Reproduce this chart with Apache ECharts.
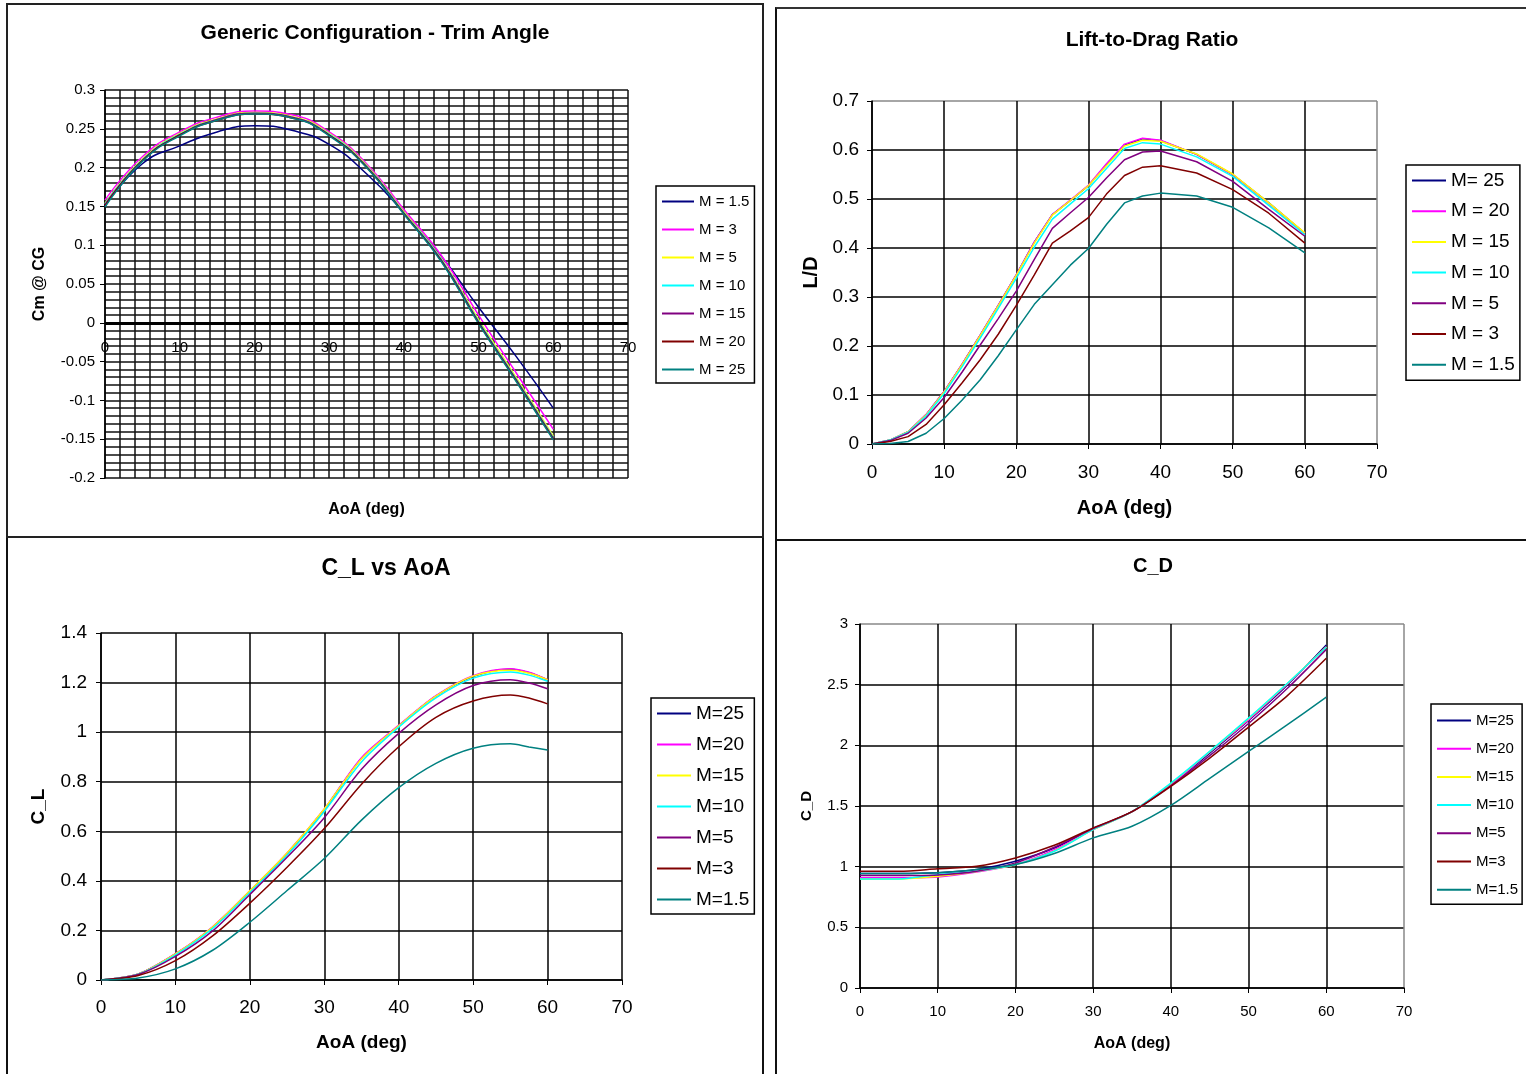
<!DOCTYPE html>
<html>
<head>
<meta charset="utf-8">
<title>Generic Configuration</title>
<style>
  body { margin: 0; background: #fff; width: 1526px; height: 1074px; overflow: hidden; position: relative; }
  .panel { position: absolute; box-sizing: border-box; background: #fff; }
  #p1 { left: 6px; top: 3px; width: 758px; height: 535px; border: 2px solid #222; }
  #p2 { left: 775px; top: 7px; width: 760px; height: 532px; border-left: 2px solid #111; border-top: 2px solid #333; }
  #p3 { left: 6px; top: 538px; width: 758px; height: 540px; border-left: 2px solid #111; border-right: 2px solid #111; }
  #p4 { left: 775px; top: 539px; width: 760px; height: 540px; border-left: 2px solid #111; border-top: 2px solid #111; }
</style>
</head>
<body>
<div id="p1" class="panel"></div>
<div id="p2" class="panel"></div>
<div id="p3" class="panel"></div>
<div id="p4" class="panel"></div>
<script src="https://cdn.jsdelivr.net/npm/echarts@6/dist/echarts.min.js"></script>
<script>
  // ---- Trim angle (Cm @ CG) ----
  let aoaCm = [0, 5, 10, 15, 20, 25, 30, 35, 40, 45, 50, 55, 60];
  let cmM1_5 = [0.150, 0.205, 0.228, 0.246, 0.254, 0.248, 0.230, 0.192, 0.142, 0.086, 0.020, -0.043, -0.110];
  let cmM3 = [0.158, 0.214, 0.246, 0.265, 0.273, 0.268, 0.246, 0.205, 0.146, 0.087, 0.010, -0.064, -0.137];
  let cmM5 = [0.154, 0.211, 0.244, 0.263, 0.271, 0.266, 0.244, 0.203, 0.143, 0.083, 0.004, -0.070, -0.146];
  let cmM10 = [0.153, 0.210, 0.243, 0.262, 0.270, 0.265, 0.243, 0.202, 0.142, 0.082, 0.002, -0.072, -0.148];
  let cmM15 = [0.152, 0.209, 0.242, 0.262, 0.270, 0.265, 0.242, 0.201, 0.141, 0.081, 0.001, -0.073, -0.149];
  let cmM20 = [0.151, 0.209, 0.242, 0.261, 0.269, 0.264, 0.242, 0.201, 0.141, 0.080, 0.000, -0.074, -0.150];
  let cmM25 = [0.149, 0.208, 0.241, 0.261, 0.269, 0.264, 0.241, 0.200, 0.140, 0.079, -0.001, -0.075, -0.151];
  let cmNames = ["M = 1.5", "M = 3", "M = 5", "M = 10", "M = 15", "M = 20", "M = 25"];

  // ---- Lift-to-drag ratio ----
  let aoaLD = [0, 2.5, 5, 7.5, 10, 12.5, 15, 17.5, 20, 22.5, 25, 27.5, 30, 32.5, 35, 37.5, 40, 45, 50, 55, 60];
  let ldM25 = [0, 0.008, 0.025, 0.060, 0.107, 0.163, 0.222, 0.283, 0.345, 0.412, 0.468, 0.497, 0.527, 0.570, 0.610, 0.623, 0.619, 0.591, 0.550, 0.492, 0.430];
  let ldM20 = [0, 0.008, 0.025, 0.060, 0.107, 0.163, 0.222, 0.283, 0.345, 0.412, 0.468, 0.498, 0.528, 0.572, 0.612, 0.624, 0.620, 0.591, 0.550, 0.491, 0.430];
  let ldM15 = [0, 0.008, 0.025, 0.059, 0.106, 0.162, 0.221, 0.282, 0.344, 0.410, 0.467, 0.497, 0.527, 0.568, 0.608, 0.620, 0.618, 0.592, 0.551, 0.492, 0.431];
  let ldM10 = [0, 0.008, 0.024, 0.057, 0.103, 0.158, 0.216, 0.277, 0.338, 0.402, 0.459, 0.490, 0.521, 0.562, 0.603, 0.615, 0.612, 0.586, 0.546, 0.487, 0.427];
  let ldM5 = [0, 0.007, 0.022, 0.053, 0.095, 0.147, 0.202, 0.256, 0.312, 0.377, 0.440, 0.472, 0.503, 0.543, 0.580, 0.596, 0.598, 0.576, 0.536, 0.479, 0.424];
  let ldM3 = [0, 0.005, 0.015, 0.040, 0.080, 0.125, 0.172, 0.224, 0.283, 0.345, 0.410, 0.435, 0.462, 0.510, 0.548, 0.565, 0.568, 0.553, 0.519, 0.471, 0.410];
  let ldM1_5 = [0, 0.001, 0.005, 0.022, 0.052, 0.090, 0.131, 0.180, 0.233, 0.285, 0.325, 0.365, 0.399, 0.448, 0.492, 0.506, 0.512, 0.506, 0.483, 0.441, 0.390];
  let ldNames = ["M= 25", "M = 20", "M = 15", "M = 10", "M = 5", "M = 3", "M = 1.5"];

  // ---- C_L ----
  let aoaCL = [0, 5, 10, 15, 20, 25, 30, 35, 40, 45, 50, 55, 57.5, 60];
  let clM25 = [0, 0.024, 0.105, 0.213, 0.359, 0.510, 0.688, 0.894, 1.025, 1.145, 1.225, 1.254, 1.240, 1.211];
  let clM20 = [0, 0.024, 0.106, 0.215, 0.360, 0.512, 0.690, 0.897, 1.027, 1.147, 1.228, 1.256, 1.242, 1.212];
  let clM15 = [0, 0.024, 0.105, 0.214, 0.360, 0.512, 0.690, 0.892, 1.025, 1.145, 1.226, 1.250, 1.238, 1.212];
  let clM10 = [0, 0.023, 0.101, 0.208, 0.353, 0.503, 0.680, 0.880, 1.020, 1.138, 1.218, 1.243, 1.230, 1.205];
  let clM5 = [0, 0.022, 0.095, 0.198, 0.345, 0.495, 0.655, 0.850, 0.995, 1.110, 1.188, 1.211, 1.198, 1.175];
  let clM3 = [0, 0.018, 0.078, 0.178, 0.310, 0.455, 0.611, 0.790, 0.941, 1.060, 1.126, 1.150, 1.138, 1.114];
  let clM1_5 = [0, 0.008, 0.045, 0.120, 0.233, 0.361, 0.490, 0.645, 0.776, 0.874, 0.935, 0.953, 0.940, 0.928];
  let clNames = ["M=25", "M=20", "M=15", "M=10", "M=5", "M=3", "M=1.5"];

  // ---- C_D ----
  let aoaCD = [0, 5, 10, 15, 20, 25, 30, 35, 40, 45, 50, 55, 60];
  let cdM25 = [0.943, 0.943, 0.949, 0.976, 1.045, 1.154, 1.311, 1.453, 1.675, 1.936, 2.205, 2.498, 2.827];
  let cdM20 = [0.908, 0.908, 0.914, 0.955, 1.017, 1.140, 1.305, 1.453, 1.675, 1.945, 2.210, 2.505, 2.813];
  let cdM15 = [0.899, 0.899, 0.921, 0.960, 1.017, 1.130, 1.305, 1.453, 1.685, 1.948, 2.220, 2.510, 2.810];
  let cdM10 = [0.899, 0.899, 0.935, 0.962, 1.017, 1.127, 1.305, 1.453, 1.689, 1.950, 2.224, 2.512, 2.808];
  let cdM5 = [0.927, 0.927, 0.932, 0.962, 1.031, 1.160, 1.315, 1.453, 1.668, 1.915, 2.180, 2.470, 2.791];
  let cdM3 = [0.962, 0.962, 0.982, 1.003, 1.072, 1.176, 1.319, 1.453, 1.662, 1.895, 2.150, 2.410, 2.717];
  let cdM1_5 = [0.943, 0.943, 0.949, 0.976, 1.017, 1.108, 1.237, 1.333, 1.505, 1.727, 1.950, 2.170, 2.397];
  let cdNames = ["M=25", "M=20", "M=15", "M=10", "M=5", "M=3", "M=1.5"];

  let NAVY = "#000080", MAG = "#ff00ff", YEL = "#ffff00", CYAN = "#00ffff",
      PURP = "#800080", DRED = "#800000", TEAL = "#008080";
  let COLORS = [NAVY, MAG, YEL, CYAN, PURP, DRED, TEAL];
  let FONT = "'Liberation Sans', Arial, sans-serif";

  function lines(names, colors, aoa, sets, smooth) {
    return sets.map(function (vals, i) {
      return {
        name: names[i],
        type: "line",
        symbol: "none",
        smooth: smooth,
        lineStyle: { color: colors[i], width: 1.5 },
        itemStyle: { color: colors[i] },
        data: aoa.map(function (a, j) { return [a, vals[j]]; }),
      };
    });
  }

  function legendBox(names, left, top, itemW, itemH, gap, fontSize, pad) {
    return {
      orient: "vertical",
      left: left,
      top: top,
      padding: pad,
      itemWidth: itemW,
      itemHeight: itemH,
      itemGap: gap,
      borderColor: "#000",
      borderWidth: 1.5,
      borderRadius: 0,
      backgroundColor: "#fff",
      itemStyle: { color: "transparent", borderWidth: 0, opacity: 0 },
      textStyle: { color: "#000", fontSize: fontSize, fontFamily: FONT },
      data: names,
    };
  }

  function gridColors(n) {
    let c = [];
    for (let i = 0; i < n; i++) c.push(i === n - 1 ? "#888" : "#000");
    return c;
  }

  function nameStyle(size) {
    return { fontSize: size, fontWeight: "bold", color: "#000", fontFamily: FONT };
  }

  // Chart 1
  let chart1 = echarts.init(document.getElementById("p1"));
  let cmSeries = lines(cmNames, COLORS, aoaCm, [cmM1_5, cmM3, cmM5, cmM10, cmM15, cmM20, cmM25], true);
  cmSeries[6].markLine = {
    silent: true, symbol: "none", animation: false,
    label: { show: false },
    lineStyle: { color: "#000", width: 3, type: "solid" },
    data: [{ yAxis: 0 }],
  };
  chart1.setOption({
    animation: false,
    title: {
      text: "Generic Configuration - Trim Angle",
      left: 367, top: 18, textAlign: "center", padding: 0,
      textStyle: nameStyle(21),
    },
    grid: { left: 97, top: 85, width: 523, height: 388, outerBoundsMode: "none", containLabel: false },
    legend: legendBox(cmNames, 648, 181, 32, 15, 13, 15, [8, 5, 6, 5]),
    xAxis: {
      type: "value", min: 0, max: 70, interval: 10,
      name: "AoA (deg)", nameLocation: "middle", nameGap: 24,
      nameTextStyle: nameStyle(16),
      axisLine: { show: false, onZero: false },
      axisTick: { show: false },
      axisLabel: { margin: -138, fontSize: 15, color: "#000", fontFamily: FONT },
      splitLine: { show: true, lineStyle: { color: "#111", width: 1.5 } },
      minorTick: { show: false, splitNumber: 5 },
      minorSplitLine: { show: true, lineStyle: { color: "#111", width: 1.5 } },
    },
    yAxis: {
      type: "value", min: -0.2, max: 0.3, interval: 0.05,
      name: "Cm @ CG", nameLocation: "middle", nameGap: 57,
      nameTextStyle: nameStyle(16),
      axisLine: { show: true, lineStyle: { color: "#000", width: 1.5 } },
      axisTick: { show: true, length: 5, lineStyle: { color: "#000" } },
      axisLabel: { margin: 10, fontSize: 15, color: "#000", fontFamily: FONT },
      splitLine: { show: true, lineStyle: { color: "#111", width: 1.5 } },
      minorTick: { show: false, splitNumber: 5 },
      minorSplitLine: { show: true, lineStyle: { color: "#111", width: 1.5 } },
    },
    series: cmSeries,
  });

  // Chart 2
  let chart2 = echarts.init(document.getElementById("p2"));
  chart2.setOption({
    animation: false,
    title: {
      text: "Lift-to-Drag Ratio",
      left: 375, top: 21, textAlign: "center", padding: 0,
      textStyle: nameStyle(21),
    },
    grid: { left: 95, top: 92, width: 505, height: 343, outerBoundsMode: "none", containLabel: false },
    legend: legendBox(ldNames, 629, 156, 34, 19, 11.7, 19, [6, 5, 6, 5]),
    xAxis: {
      type: "value", min: 0, max: 70, interval: 10,
      name: "AoA (deg)", nameLocation: "middle", nameGap: 54,
      nameTextStyle: nameStyle(20),
      axisLine: { lineStyle: { color: "#000", width: 1.5 } },
      axisTick: { show: true, length: 5, lineStyle: { color: "#000" } },
      axisLabel: { margin: 19, fontSize: 19, color: "#000", fontFamily: FONT },
      splitLine: { show: true, lineStyle: { color: gridColors(8), width: 1.5 } },
    },
    yAxis: {
      type: "value", min: 0, max: 0.7, interval: 0.1,
      name: "L/D", nameLocation: "middle", nameGap: 51,
      nameTextStyle: nameStyle(20),
      axisLine: { show: true, lineStyle: { color: "#000", width: 1.5 } },
      axisTick: { show: true, length: 5, lineStyle: { color: "#000" } },
      axisLabel: { margin: 13, fontSize: 19, color: "#000", fontFamily: FONT },
      splitLine: { show: true, lineStyle: { color: gridColors(8), width: 1.5 } },
    },
    series: lines(ldNames, COLORS, aoaLD, [ldM25, ldM20, ldM15, ldM10, ldM5, ldM3, ldM1_5], false),
  });

  // Chart 3
  let chart3 = echarts.init(document.getElementById("p3"));
  chart3.setOption({
    animation: false,
    title: {
      text: "C_L vs AoA",
      left: 378, top: 19, textAlign: "center", padding: 0,
      textStyle: nameStyle(23),
    },
    grid: { left: 93, top: 95, width: 521, height: 347, outerBoundsMode: "none", containLabel: false },
    legend: legendBox(clNames, 643, 160, 34, 19, 12, 19, [6, 5, 5, 5]),
    xAxis: {
      type: "value", min: 0, max: 70, interval: 10,
      name: "AoA (deg)", nameLocation: "middle", nameGap: 53,
      nameTextStyle: nameStyle(19),
      axisLine: { lineStyle: { color: "#000", width: 1.5 } },
      axisTick: { show: true, length: 5, lineStyle: { color: "#000" } },
      axisLabel: { margin: 18, fontSize: 19, color: "#000", fontFamily: FONT },
      splitLine: { show: true, lineStyle: { color: "#000", width: 1.5 } },
    },
    yAxis: {
      type: "value", min: 0, max: 1.4, interval: 0.2,
      name: "C_L", nameLocation: "middle", nameGap: 53,
      nameTextStyle: nameStyle(19),
      axisLine: { show: true, lineStyle: { color: "#000", width: 1.5 } },
      axisTick: { show: true, length: 5, lineStyle: { color: "#000" } },
      axisLabel: { margin: 14, fontSize: 19, color: "#000", fontFamily: FONT },
      splitLine: { show: true, lineStyle: { color: "#000", width: 1.5 } },
    },
    series: lines(clNames, COLORS, aoaCL, [clM25, clM20, clM15, clM10, clM5, clM3, clM1_5], 0.3),
  });

  // Chart 4
  let chart4 = echarts.init(document.getElementById("p4"));
  chart4.setOption({
    animation: false,
    title: {
      text: "C_D",
      left: 376, top: 15, textAlign: "center", padding: 0,
      textStyle: nameStyle(20),
    },
    grid: { left: 83, top: 83, width: 544, height: 364, outerBoundsMode: "none", containLabel: false },
    legend: legendBox(cdNames, 654, 163, 34, 15, 13.2, 15, [9, 4, 7, 5]),
    xAxis: {
      type: "value", min: 0, max: 70, interval: 10,
      name: "AoA (deg)", nameLocation: "middle", nameGap: 48,
      nameTextStyle: nameStyle(16),
      axisLine: { lineStyle: { color: "#000", width: 1.5 } },
      axisTick: { show: true, length: 5, lineStyle: { color: "#000" } },
      axisLabel: { margin: 16, fontSize: 15, color: "#000", fontFamily: FONT },
      splitLine: { show: true, lineStyle: { color: gridColors(8), width: 1.5 } },
    },
    yAxis: {
      type: "value", min: 0, max: 3, interval: 0.5,
      name: "C_D", nameLocation: "middle", nameGap: 46,
      nameTextStyle: nameStyle(15),
      axisLine: { show: true, lineStyle: { color: "#000", width: 1.5 } },
      axisTick: { show: true, length: 5, lineStyle: { color: "#000" } },
      axisLabel: { margin: 12, fontSize: 15, color: "#000", fontFamily: FONT },
      splitLine: { show: true, lineStyle: { color: gridColors(7), width: 1.5 } },
    },
    series: lines(cdNames, COLORS, aoaCD, [cdM25, cdM20, cdM15, cdM10, cdM5, cdM3, cdM1_5], 0.3),
  });
</script>
</body>
</html>
